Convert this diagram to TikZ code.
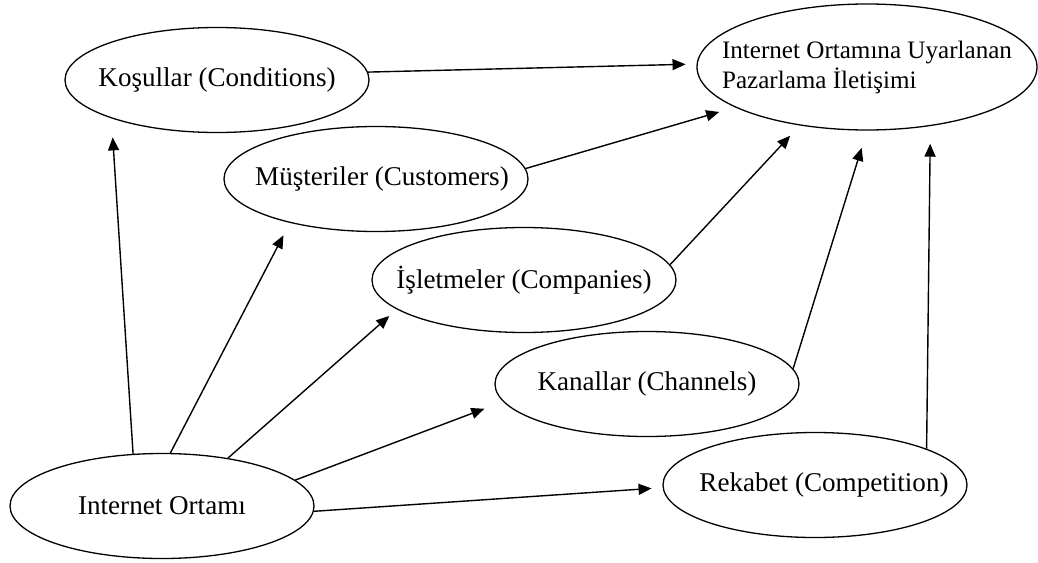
\documentclass[tikz,border=0pt]{standalone}
\usepackage{fontspec}
\setmainfont{Liberation Serif}
\usetikzlibrary{arrows.meta,shapes.geometric}
\begin{document}
\begin{tikzpicture}[x=0.5pt,y=-0.5pt,
  oval/.style={draw, ellipse, line width=0.65pt, inner sep=-20pt,
    minimum width=152pt, minimum height=52.5pt,
    font=\fontsize{13.55pt}{16pt}\selectfont},
  bigoval/.style={oval, minimum width=170pt, minimum height=63pt, align=left,
    font=\fontsize{12.55pt}{15pt}\selectfont},
  arr/.style={line width=0.7pt, -{Triangle[length=6.5pt,width=5.5pt]}}]
\useasboundingbox (0,0) rectangle (1038,562);
\node[oval] (kos) at (217,80) {Koşullar (Conditions)};
\node[bigoval] (tgt) at (867,67) {Internet Ortamına Uyarlanan\\Pazarlama İletişimi};
\node[oval] (mus) at (376,179) {\hspace{6pt}Müşteriler (Customers)};
\node[oval] (isl) at (524,280) {İşletmeler (Companies)};
\node[oval] (kan) at (647,384) {Kanallar (Channels)\hspace{10pt}};
\node[oval] (rek) at (815,485) {\hspace{9pt}Rekabet (Competition)};
\node[oval] (int) at (162,506) {Internet Ortamı};
\draw[arr, shorten >=5.5pt] (kos.3.7) -- (tgt.179.3);
\draw[arr, shorten >=8.25pt] (mus.4.6) -- (tgt.197.3);
\draw[arr, shorten >=7pt] (isl.6.2) -- (tgt.221);
\draw[arr, shorten >=9pt] (kan.6.3) -- (tgt.270);
\draw[arr, shorten >=8.8pt] (rek.18.9) -- (tgt.317.4);
\draw[arr, shorten >=9.5pt] (int.119.6) -- (kos.200.7);
\draw[arr, shorten >=7pt] (int.81) -- (mus.207.9);
\draw[arr, shorten >=5pt] (int.36.4) -- (isl.193.4);
\draw[arr, shorten >=10pt] (int.11.1) -- (kan.187.7);
\draw[arr, shorten >=5.5pt] (int.358.1) -- (rek.181.3);
\end{tikzpicture}
\end{document}
